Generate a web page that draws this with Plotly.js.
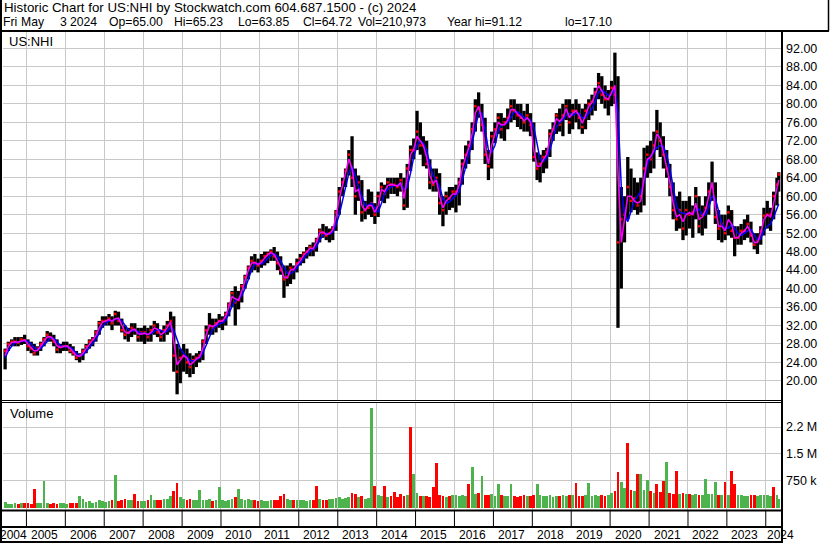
<!DOCTYPE html>
<html><head><meta charset="utf-8">
<script src="https://cdn.plot.ly/plotly-3.0.1.min.js"></script>
<style>html,body{margin:0;padding:0;background:#fff;overflow:hidden}#chart{width:830px;height:543px}</style>
</head><body><div id="chart"></div>
<script>
// Monthly bars, Jun 2004 .. May 2024 (last month partial, to May 3 2024)
const high = [
 27,28.5,29,29.5,29.5,29.5,30,
 29,28.5,28,27.5,28.5,29.5,30.8,30.5,30,29,28,28.5,
 28.5,28,27.5,26.5,26,27,28,29,29.5,31,33,34,
 34,34.5,34,35.2,35,33.5,32,31.5,32.5,32.5,31.5,31.5,
 32,31.5,32,33,32.5,31,32,33,35,34,28,27,
 28,27,26,25.5,26,26.5,29,32,34.7,33.5,33.5,34.5,
 34,35,37,39.5,40.5,39.5,41,43,45,47,47.5,46.5,
 47.5,48,48,48.5,49,48,47,45,45,45.5,45,46.5,
 47.5,48,49,49.5,50,51,53,54,53.5,53,53.5,57,
 62,64,66,70,73,66,64.5,63.5,59,61.5,61,58.5,
 61,63,62.5,64,64,64,64,65,64,67,71,72.5,
 78.5,76,73,72,68,66,66,65,60,61,62,62,
 62.5,64,68,71,72,76,81,82.5,80,77,70,74,
 76,78,78,77,79,81,81,80,80,78.5,80,78,
 76,69.5,69,70,70.5,74.5,76,78,79,80,81,81,
 80,81,80,79,80,81,82,83.5,86.7,86,84,83,
 85,91.1,86,62,60,68.5,66,64,63,64,70.5,71,
 72,74,78.7,76,73,70,67,63,60,61,59,59,
 60,58,62,60,58,60,63,67.5,63,57,56,56,
 58,57,53.5,53.5,54,55,56,54.5,52,52,53.5,57.5,
 59,57.5,61,64,65.2
];
const low = [
 22.5,26.5,27.5,27.5,27.5,27.8,28,
 26.5,26,25.5,25.5,26.5,27.5,28.5,28.5,27.5,26,26,26.5,
 26.5,26,25.5,24.5,24,24.5,26,27,27.5,28.5,30,31.5,
 32,32,31,32,32,30.5,29,28.5,29.5,30,28.5,28.5,
 28,28.5,28.5,30,29.5,28.5,28.5,30,30.5,22,17.1,19.5,
 22,21.5,20.8,21.5,23,24,24.5,28,30,30,30.5,31.5,
 31,32,34,36,32,35.5,37,40,42,43.5,44,43.5,
 44.5,45,45.5,46,46,44,43,38,40.5,41,42,43.5,
 45,45.5,46.5,47,47,48,50,51,50.5,50,50.5,52.5,
 56,60,62,64.5,62,56,59,54.5,55,56,55.5,54,
 55.5,59,58.5,59.5,60.5,60.5,60,61,57,57.5,65.5,68,
 70,69,66.5,66,61.5,61,61,56,53.5,56,57,57.5,
 56.5,58,62.5,66,67,70,74,77,74,67,63.5,66,
 71.5,73.5,72.5,72,74.5,76,76.5,75,74.5,74,74,73,
 67.5,63.5,63,65,66,68.5,72,73.5,74,73,76.5,73.5,
 74.5,76,74.5,73.5,74.5,76.5,77.5,78.5,81,80,79,77.5,
 79.5,80,31.5,40,50,55,56.5,57,56,56.5,58,64,
 65,66,70,68.5,66,64,60,55,52.5,53,50.5,51.5,
 53,51,55,52,51.5,53,56,59,54,50.5,50,50.5,
 51.5,51,47,49.5,49.5,50.5,51,50,48.5,47.5,49.5,51.5,
 53,52.5,55,58,61
];
const close = [
 26.5,28,28.5,28.5,28.3,29,28.8,
 27.5,27,26,27,28,29,30,29.2,28.5,26.8,27.5,27.5,
 27.5,26.5,26,25,25.5,26.5,27.5,28.5,29,30.5,32.5,33,
 33,33.5,32.5,34.5,33,31,30,30.5,31.5,31,29.5,30.5,
 30.5,29.5,31,32,30.5,29.5,31,32,33,25.5,22,25,
 25.5,24,23,24.5,25,25.5,28.5,31,32,31.5,32.5,33,
 33,34.5,36.5,39,37,37.5,40.5,42.5,44.5,46,45.5,45,
 46,47,47.5,48,47,45.5,44,42,42.5,44.5,44,45.5,
 46.5,47.5,48,49,48.5,50.5,52.5,52,51.5,52,53,56.5,
 61,63,65.5,69,64,60,63,56.5,57,57.5,58.5,56,
 60,62,60.5,63,62.5,62.5,62,63.5,58,66,70,70,
 74,71,71,67,63,62.5,64,58.5,57,60,59.5,61,
 61,63,67,69,71,74.5,79.5,79,75.5,69,66.5,73,
 74.5,77,74.5,76,77,79.5,78.5,77.5,77,76,77.5,75.5,
 68.5,66,67,68.5,69.5,73.5,74.5,77.5,75.5,77.5,79.5,76,
 78.5,78.5,77,75,78.5,80,80.5,82.5,84.5,82,81,81,
 83.5,82,50,55,56,62,59,59.5,58,60,66,69,
 68,71,74,72,69,66,62,57,55,57,53,57,
 56,56.5,60,53.5,56,57.5,61,62,55.5,53,54,52,
 56.5,52.5,51,51,52.5,52.5,54,51.5,49.5,50.5,52.5,55.8,
 56,56,60,62.5,64.72
];
const maFast = [
 25.5,27.5,28.3,28.5,28.4,28.7,28.9,
 28,27.3,26.5,26.6,27.5,28.5,29.5,29.6,28.9,27.6,27.2,27.5,
 27.6,27,26.3,25.5,25.3,26,27,28,28.8,29.8,31.5,32.7,
 33,33.3,32.9,33.5,33.6,32,30.6,30.3,31,31.2,30.2,30.1,
 30.3,30,30.5,31.5,31.2,30,30.5,31.6,32.8,28.5,23.5,24.5,
 25.5,25,23.5,24,24.8,25.2,27,30,32,31.8,32.2,33,
 33,34,36,38.3,37.8,37.5,39.5,42,44,45.5,45.7,45.2,
 45.7,46.6,47.3,47.8,47.4,46,44.6,42.5,42.3,44,44.2,45.2,
 46,47.2,47.9,48.7,48.7,50,52,52.3,51.7,51.9,52.7,55.5,
 59.5,62.5,65,68,66,61,61.5,58,57,58,58,56.5,
 58,61.5,61,62.3,62.6,62.4,62.2,63,59.5,64,69,70.2,
 73,72,71,68.5,64.5,62.8,63.5,60,57.5,59,59.6,60.5,
 60.5,62.5,66,68.5,70.5,73.5,78,79.5,76.5,70.5,67,71,
 73.5,76,75.5,75.5,76.5,78.8,78.8,77.8,77.2,76.3,77,76,
 70,66.5,66.5,68,69,72.5,74.5,76.8,76.2,77,79,77,
 78,78.5,77.5,75.8,77.5,79.5,80.3,82,84,82.8,81.3,81,
 82.5,84,65,50,55,60,60,59,58.5,59,64,68,
 68.5,70,73.5,72.5,69.5,66.5,63,58.5,55.5,56,54.5,56,
 56.5,56,58.5,55,55.5,57,60,63,57.5,53.5,53.5,52.5,
 55,54,51,51,52,52.5,53.5,52,50,50,52,55,
 56,55.5,58.5,61.5,63.5
];
const maSlow = [
 25,26.5,27.5,28.2,28.4,28.5,28.7,
 28.6,28,27.2,26.8,27,27.8,28.7,29.3,29.2,28.4,27.7,27.4,
 27.4,27.3,26.8,26,25.5,25.6,26.3,27.2,28.1,29,30.3,31.8,
 32.5,33,33.1,33.3,33.5,33,32,31.1,30.8,30.9,30.7,30.3,
 30.4,30.1,30.2,30.8,31.2,31,30.5,30.8,31.6,31,29,27,
 26,25.2,24.5,24.3,24.6,25,26,27.8,29.7,31.2,31.8,32.3,
 32.6,33.2,34.5,36.2,37.3,37.8,38.5,40,42,44,45.2,45.5,
 45.3,45.8,46.5,47.2,47.5,47,46,44.5,43.3,43.2,43.7,44.5,
 45.5,46.5,47.3,48,48.5,49,50.5,51.5,52,51.8,52.2,53.8,
 56,59,62,65,66.5,64.5,62,60,58,58,58.5,57.5,
 56.5,58.5,60.5,61.5,62,62.3,62.4,62.5,61.5,62,65,68.5,
 71,72,71.5,70,67,64.5,63.5,62,59.5,58.5,58.8,59.5,
 60.2,61,63.5,66.5,69,71.5,75,78,78,74.5,70,69.5,
 71,74,75.5,75.5,76,77,78.2,78.3,77.8,77,76.8,76.5,
 75,71,68,67.5,68.3,70,72.5,75,76,76.5,77.5,78,
 77.5,78,78,77,77,78,79,80.5,82.5,83,82.5,81.8,
 82,83.5,78,62,56,54.5,57,59,60,61,63,67,
 68.5,69.5,70.5,71,70.8,69,66,62,58,56.5,56.3,56.2,
 56.3,56.2,57,57.2,56,56,57.5,60,59.5,56.5,54,53,
 53,54,53,52,51.5,52,52.5,52.8,51.5,50.5,50.8,52.5,
 53.5,54,55.5,57.5,58.3
];
// volume in thousands of shares
const volumeK = [
 150,110,100,120,110,130,120,
 130,110,520,120,140,750,130,110,120,100,140,120,
 110,130,120,140,320,250,150,180,130,160,200,180,
 150,170,200,920,180,200,250,220,200,370,190,170,
 180,200,350,220,200,210,250,230,330,450,690,300,
 250,220,230,200,210,490,220,200,240,190,200,570,
 200,180,220,250,300,510,230,200,250,220,200,190,
 200,180,190,200,210,200,320,370,250,220,200,210,
 210,200,190,220,200,600,230,210,200,240,230,260,
 280,250,270,300,400,380,280,320,250,270,2780,600,
 350,330,600,300,310,430,300,370,320,340,2240,950,
 400,330,320,310,300,570,1240,350,330,300,320,340,
 350,330,360,320,660,1130,380,400,890,350,360,380,
 330,660,340,320,330,660,310,300,320,340,310,330,
 340,660,350,330,320,340,300,310,320,350,330,360,
 360,690,330,320,340,690,330,340,320,350,330,340,
 400,450,980,700,550,1800,500,450,950,950,500,780,
 450,400,660,420,750,1270,400,380,1030,370,400,390,
 380,360,370,350,360,800,380,370,720,360,350,720,
 350,1030,660,350,340,330,320,340,350,330,340,360,
 350,330,570,340,250
];
const volDirOverride = [
 ['2005-03','d'],['2005-06','u'],['2007-04','u'],['2007-10','d'],['2008-11','d'],['2009-06','u'],['2009-12','u'],['2010-06','u'],
 ['2012-06','d'],['2013-11','u'],['2013-12','d'],['2014-03','d'],['2014-06','d'],['2014-08','d'],['2014-11','d'],['2014-12','u'],
 ['2015-06','d'],['2015-07','d'],['2016-05','d'],['2016-06','u'],['2016-09','u'],['2017-02','u'],['2017-06','u'],['2018-02','u'],
 ['2019-02','d'],['2019-06','u'],['2020-03','d'],['2020-06','d'],['2020-09','d'],['2020-10','u'],['2020-12','u'],
 ['2021-03','d'],['2021-05','d'],['2021-06','u'],['2021-09','d'],['2022-06','u'],['2022-09','u'],['2022-12','d'],
 ['2023-02','d'],['2023-03','d'],['2024-03','d']
];
const priceTicks = [20,24,28,32,36,40,44,48,52,56,60,64,68,72,76,80,84,88,92];
const volTicks = [750,1500,2250];
const volTickText = ['750 k','1.5 M','2.2 M'];
const years = [2004,2005,2006,2007,2008,2009,2010,2011,2012,2013,2014,2015,2016,2017,2018,2019,2020,2021,2022,2023,2024];
const headLine1 = 'Historic Chart for US:NHI by Stockwatch.com 604.687.1500 - (c) 2024';
const headLine2 = [['Fri',1.7],['May',20],['3',59.3],['2024',68.5],['Op=65.00',108],['Hi=65.23',173],['Lo=63.85',237],['Cl=64.72',301.7],['Vol=210,973',356.7],['Year hi=91.12',446],['lo=17.10',564]];

// month dates (mid-month), last bar is May 2 2024
const dates = [], monthKeys = [];
for (let i = 0; i < close.length; i++) {
  const m0 = 5 + i, y = 2004 + Math.floor(m0 / 12), m = m0 % 12 + 1;
  const key = y + '-' + String(m).padStart(2, '0');
  monthKeys.push(key);
  dates.push(key + '-15');
}
dates[dates.length - 1] = '2024-05-02';

const FONT = 'Liberation Sans, Arial, sans-serif';
const W = 830, H = 543, ML = 3, MR = 49, MT = 32, MB = 33;
const PW = W - ML - MR, PH = H - MT - MB;
const px = v => (v - ML) / PW;
const py = v => (H - MB - v) / PH;

const barX = [], barY = [];
for (let i = 0; i < dates.length; i++) { barX.push(dates[i], dates[i], null); barY.push(low[i], high[i], null); }
const overrides = Object.fromEntries(volDirOverride);
const volColors = close.map((c, i) => {
  const o = overrides[monthKeys[i]];
  const up = o ? o === 'u' : (i === 0 || c >= close[i - 1]);
  return up ? '#4db34d' : '#ff0000';
});

const traces = [
  {type:'scatter', mode:'lines', x:barX, y:barY, xaxis:'x', yaxis:'y', line:{color:'#000', width:3.3}, connectgaps:false, hoverinfo:'skip'},
  {type:'scatter', mode:'markers', x:dates, y:close, xaxis:'x', yaxis:'y', marker:{color:'#ff0000', size:2.5, symbol:'square'}, hoverinfo:'skip'},
  {type:'scatter', mode:'lines', x:dates, y:maSlow, xaxis:'x', yaxis:'y', line:{color:'#0000ff', width:1.5}, hoverinfo:'skip'},
  {type:'scatter', mode:'lines', x:dates, y:maFast, xaxis:'x', yaxis:'y', line:{color:'#ff00ff', width:1.5}, hoverinfo:'skip'},
  {type:'bar', x:dates, y:volumeK, xaxis:'x', yaxis:'y2', width:26*86400000, marker:{color:volColors, line:{width:0}}, hoverinfo:'skip'}
];

const shapes = [];
const hline = (y, x0, x1, w) => shapes.push({type:'line', xref:'paper', yref:'paper', x0:px(x0), x1:px(x1), y0:py(y), y1:py(y), line:{color:'#000', width:w}});
const vline = (x, y0, y1, w) => shapes.push({type:'line', xref:'paper', yref:'paper', x0:px(x), x1:px(x), y0:py(y0), y1:py(y1), line:{color:'#000', width:w}});
hline(31, 0, 829, 2);
vline(1, 0, 543, 2);
vline(782, 31, 543, 2);
vline(828.5, 0, 31, 1.5);
hline(400.5, 0, 782, 1);
hline(402.5, 0, 782, 1);
hline(510.5, 0, 782, 2);
hline(527, 0, 782, 2);
hline(542, 0, 782, 2);
years.slice(1).forEach(y => shapes.push({type:'line', xref:'x', yref:'paper', x0:y + '-01-01', x1:y + '-01-01', y0:py(511), y1:py(526), line:{color:'#000', width:1}}));

const annotations = [];
const ann = (text, x, yc, size) => annotations.push({text, xref:'paper', yref:'paper', x:px(x), y:py(yc), xanchor:'left', yanchor:'middle', showarrow:false, font:{family:FONT, size, color:'#000'}});
ann(headLine1, 1.7, 7.3, 13.3);
headLine2.forEach(([t, x]) => ann(t, x - 1, 21.8, 12.2));
ann('US:NHI', 7.3, 41.5, 13);
ann('Volume', 8.3, 413.5, 13);
years.forEach(y => {
  const a = {text:String(y), xref:'x', yref:'paper', y:py(535), yanchor:'middle', showarrow:false, font:{family:FONT, size:12, color:'#000'}};
  if (y === 2004) { a.x = '2005-01-01'; a.xanchor = 'right'; a.xshift = 2.5; }
  else { a.x = y + '-01-01'; a.xanchor = 'left'; a.xshift = (y === 2024 ? -1 : 2.5); }
  annotations.push(a);
});

const layout = {
  width:W, height:H, margin:{l:ML, r:MR, t:MT, b:MB, pad:0},
  paper_bgcolor:'#fff', plot_bgcolor:'#fff', showlegend:false,
  font:{family:FONT, size:12, color:'#000'},
  bargap:0,
  xaxis:{type:'date', range:['2004-05-26','2024-05-23'], anchor:'y2', tickmode:'array', tickvals:years.slice(1).map(y => y + '-01-01'), showticklabels:false, ticks:'', showgrid:true, gridcolor:'#c8c8c8', gridwidth:1, zeroline:false, showline:false, fixedrange:true},
  yaxis:{domain:[py(400), 1], range:[15.87, 95.57], side:'right', anchor:'x', tickmode:'array', tickvals:priceTicks, ticktext:priceTicks.map(v => v.toFixed(2)), showgrid:true, gridcolor:'#c8c8c8', zeroline:false, showline:false, ticks:'', ticklabelstandoff:4, tickfont:{family:FONT, size:12.5, color:'#000'}, fixedrange:true},
  yaxis2:{domain:[0, py(402)], range:[-70, 2952], side:'right', anchor:'x', tickmode:'array', tickvals:volTicks, ticktext:volTickText, showgrid:true, gridcolor:'#c8c8c8', zeroline:false, showline:false, ticks:'', ticklabelstandoff:4, tickfont:{family:FONT, size:12.5, color:'#000'}, fixedrange:true},
  shapes, annotations
};
Plotly.newPlot('chart', traces, layout, {staticPlot:true, displayModeBar:false});
</script></body></html>
